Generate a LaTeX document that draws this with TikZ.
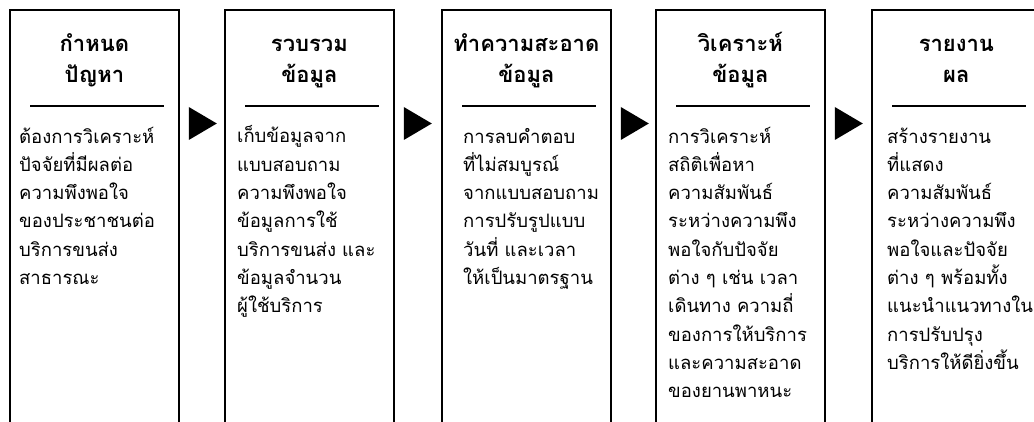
\documentclass[tikz,border=0pt]{standalone}
\usepackage{fontspec}
\newfontfamily\thai[Script=Thai]{Loma}
\usetikzlibrary{calc}
\tikzset{
  box/.style={draw=black, line width=1.8pt, minimum width=169pt, minimum height=440pt, anchor=north west, inner sep=0pt},
  ttl/.style={anchor=base, align=center, inner sep=0pt, font=\thai\bfseries\fontsize{22}{31}\selectfont},
  body/.style={anchor=base west, align=left, inner sep=0pt, font=\thai\fontsize{18.5}{28.3}\selectfont},
  sep/.style={line width=1.3pt},
  tri/.style={fill=black}
}
\begin{document}
\begin{tikzpicture}[x=1pt,y=1pt]
\useasboundingbox (0,0) rectangle (1034,-422);
\foreach \n/\x in {1/9,2/224,3/441,4/655,5/871}{
  \node[box] (b\n) at (\x,-9) {};
  \coordinate (sl\n) at ($(b\n.north west)+(21,-97)$);
  \coordinate (sr\n) at ($(b\n.north east)+(-16,-97)$);
  \draw[sep] (sl\n) -- (sr\n);
}
\foreach \n in {1,2,3,4}{
  \coordinate (ta\n) at ($(b\n.north east)+(9,-98)$);
  \fill[tri] (ta\n) -- ++(0,-33) -- ++(28,16.5) -- cycle;
}
% anchor = baseline of the last line
\node[ttl] (t1) at ($(b1.north)+(0,-74)$) {กำหนด\\ปัญหา};
\node[ttl] (t2) at ($(b2.north)+(0,-74)$) {รวบรวม\\ข้อมูล};
\node[ttl] (t3) at ($(b3.north)+(0,-74)$) {ทำความสะอาด\\ข้อมูล};
\node[ttl] (t4) at ($(b4.north)+(0,-74)$) {วิเคราะห์\\ข้อมูล};
\node[ttl] (t5) at ($(b5.north)+(0,-74)$) {รายงาน\\ผล};
\node[body] (d1) at ($(b1.north west)+(10,-275.5)$) {ต้องการวิเคราะห์\\ปัจจัยที่มีผลต่อ\\ความพึงพอใจ\\ของประชาชนต่อ\\บริการขนส่ง\\สาธารณะ};
\node[body] (d2) at ($(b2.north west)+(13,-303.8)$) {เก็บข้อมูลจาก\\แบบสอบถาม\\ความพึงพอใจ\\ข้อมูลการใช้\\บริการขนส่ง และ\\ข้อมูลจำนวน\\ผู้ใช้บริการ};
\node[body] (d3) at ($(b3.north west)+(22,-275.5)$) {การลบคำตอบ\\ที่ไม่สมบูรณ์\\จากแบบสอบถาม\\การปรับรูปแบบ\\วันที่ และเวลา\\ให้เป็นมาตรฐาน};
\node[body] (d4) at ($(b4.north west)+(13,-388.7)$) {การวิเคราะห์\\สถิติเพื่อหา\\ความสัมพันธ์\\ระหว่างความพึง\\พอใจกับปัจจัย\\ต่าง ๆ เช่น เวลา\\เดินทาง ความถี่\\ของการให้บริการ\\และความสะอาด\\ของยานพาหนะ};
\node[body] (d5) at ($(b5.north west)+(16,-360.4)$) {สร้างรายงาน\\ที่แสดง\\ความสัมพันธ์\\ระหว่างความพึง\\พอใจและปัจจัย\\ต่าง ๆ พร้อมทั้ง\\แนะนำแนวทางใน\\การปรับปรุง\\บริการให้ดียิ่งขึ้น};
\end{tikzpicture}
\end{document}
